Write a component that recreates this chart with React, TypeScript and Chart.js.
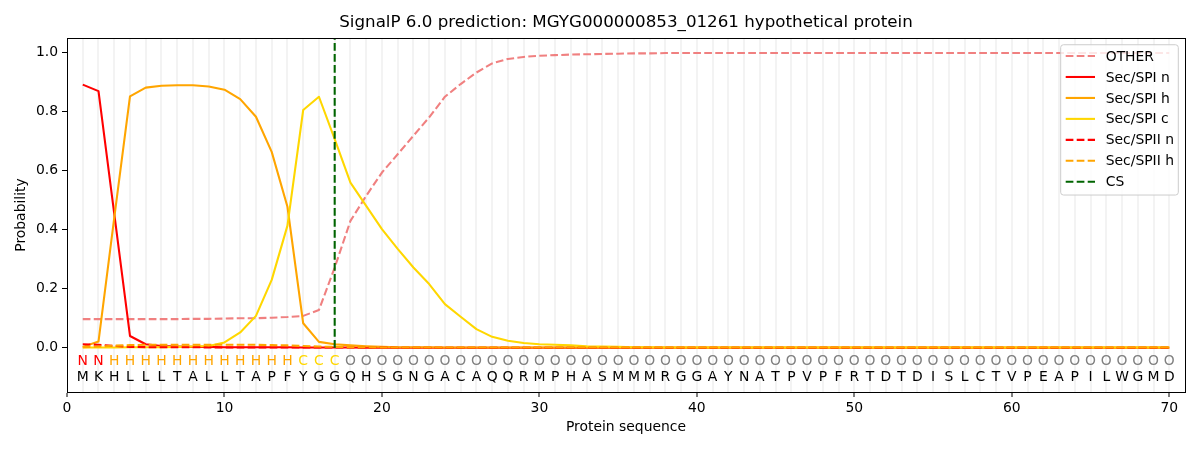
import React, { useEffect, useRef } from "react";
import { Chart, registerables } from "chart.js";

Chart.register(...registerables);

const chartTitle = "SignalP 6.0 prediction: MGYG000000853_01261 hypothetical protein";

// residues and predicted region per residue
const sequence = "MKHLLLTALLTAPFYGGQHSGNGACAQQRMPHASMMMRGGAYNATPVPFRTDTDISLCTVPEAPILWGMD".split("");
const regions = "NNHHHHHHHHHHHHCCCOOOOOOOOOOOOOOOOOOOOOOOOOOOOOOOOOOOOOOOOOOOOOOOOOOOOO".split("");
const positions = sequence.map((_, i) => i + 1);

const xTickLabels = [0, 10, 20, 30, 40, 50, 60, 70];
const yTickLabels = [0, 0.2, 0.4, 0.6, 0.8, 1.0];
const csPosition = 17;

const other = [
  0.097, 0.097, 0.097, 0.097, 0.097, 0.097, 0.097, 0.098, 0.098, 0.099,
  0.1, 0.1, 0.102, 0.104, 0.108, 0.128, 0.272, 0.43, 0.515, 0.594,
  0.656, 0.719, 0.781, 0.851, 0.894, 0.933, 0.964, 0.979, 0.986, 0.99,
  0.992, 0.994, 0.995, 0.996, 0.997, 0.998, 0.998, 0.999, 0.999, 0.999,
  0.999, 0.999, 0.999, 0.999, 0.999, 0.999, 0.999, 0.999, 0.999, 0.999,
  0.999, 0.999, 0.999, 0.999, 0.999, 0.999, 0.999, 0.999, 0.999, 0.999,
  0.999, 0.999, 0.999, 0.999, 0.999, 0.999, 0.999, 0.999, 0.999, 0.999,
];
const spiN = [
  0.892, 0.87, 0.455, 0.04, 0.012, 0.006, 0.004, 0.003, 0.003, 0.002,
  0.002, 0.002, 0.002, 0.002, 0.001, 0.001, 0.001, 0.001, 0, 0,
  0, 0, 0, 0, 0, 0, 0, 0, 0, 0,
  0, 0, 0, 0, 0, 0, 0, 0, 0, 0,
  0, 0, 0, 0, 0, 0, 0, 0, 0, 0,
  0, 0, 0, 0, 0, 0, 0, 0, 0, 0,
  0, 0, 0, 0, 0, 0, 0, 0, 0, 0,
];
const spiH = [
  0.003, 0.021, 0.44, 0.852, 0.882, 0.888, 0.89, 0.89, 0.886, 0.875,
  0.843, 0.783, 0.664, 0.478, 0.083, 0.02, 0.012, 0.008, 0.005, 0.003,
  0.002, 0.002, 0.002, 0.001, 0.001, 0.001, 0.001, 0.001, 0.001, 0.001,
  0.001, 0.001, 0.001, 0.001, 0.001, 0.001, 0.001, 0.001, 0.001, 0.001,
  0.001, 0.001, 0.001, 0.001, 0.001, 0.001, 0.001, 0.001, 0.001, 0.001,
  0.001, 0.001, 0.001, 0.001, 0.001, 0.001, 0.001, 0.001, 0.001, 0.001,
  0.001, 0.001, 0.001, 0.001, 0.001, 0.001, 0.001, 0.001, 0.001, 0.001,
];
const spiC = [
  0.001, 0.001, 0.001, 0.002, 0.002, 0.002, 0.003, 0.004, 0.006, 0.018,
  0.052, 0.108, 0.23, 0.414, 0.806, 0.851, 0.707, 0.56, 0.481, 0.402,
  0.335, 0.272, 0.216, 0.148, 0.105, 0.063, 0.037, 0.024, 0.016, 0.012,
  0.01, 0.008, 0.005, 0.004, 0.003, 0.002, 0.002, 0.001, 0.001, 0.001,
  0.001, 0.001, 0.001, 0.001, 0.001, 0.001, 0.001, 0.001, 0.001, 0.001,
  0.001, 0.001, 0.001, 0.001, 0.001, 0.001, 0.001, 0.001, 0.001, 0.001,
  0.001, 0.001, 0.001, 0.001, 0.001, 0.001, 0.001, 0.001, 0.001, 0.001,
];
const spiiN = [
  0.012, 0.01, 0.006, 0.003, 0.002, 0.002, 0.002, 0.002, 0.001, 0.001,
  0.001, 0.001, 0.001, 0.001, 0.001, 0.001, 0.001, 0.001, 0.001, 0.001,
  0, 0, 0, 0, 0, 0, 0, 0, 0, 0,
  0, 0, 0, 0, 0, 0, 0, 0, 0, 0,
  0, 0, 0, 0, 0, 0, 0, 0, 0, 0,
  0, 0, 0, 0, 0, 0, 0, 0, 0, 0,
  0, 0, 0, 0, 0, 0, 0, 0, 0, 0,
];
const spiiH = [
  0.002, 0.004, 0.007, 0.009, 0.01, 0.01, 0.01, 0.01, 0.01, 0.01,
  0.01, 0.01, 0.009, 0.008, 0.006, 0.004, 0.003, 0.002, 0.002, 0.001,
  0.001, 0.001, 0.001, 0.001, 0.001, 0.001, 0.001, 0.001, 0.001, 0.001,
  0.001, 0.001, 0.001, 0.001, 0.001, 0.001, 0.001, 0.001, 0.001, 0.001,
  0.001, 0.001, 0.001, 0.001, 0.001, 0.001, 0.001, 0.001, 0.001, 0.001,
  0.001, 0.001, 0.001, 0.001, 0.001, 0.001, 0.001, 0.001, 0.001, 0.001,
  0.001, 0.001, 0.001, 0.001, 0.001, 0.001, 0.001, 0.001, 0.001, 0.001,
];

const regionColors: Record<string, string> = {
  N: "#ff0000",
  H: "#ffa500",
  C: "#ffd700",
  O: "#808080",
};

const FONT = "DejaVu Sans";
const DASH = [7.7, 3.3];
const LW = 2.08;

const toPoints = (values: number[]) => values.map((y, i) => ({ x: positions[i], y }));

// residue letters + region letters under the curves
const sequencePlugin = {
  id: "sequenceText",
  afterDatasetsDraw(chart: any) {
    const { ctx, scales } = chart;
    ctx.save();
    ctx.font = `13.9px "${FONT}"`;
    ctx.textAlign = "center";
    ctx.textBaseline = "middle";
    positions.forEach((p, i) => {
      const x = scales.x.getPixelForValue(p);
      ctx.fillStyle = regionColors[regions[i]];
      ctx.fillText(regions[i], x, scales.y.getPixelForValue(-0.047));
      ctx.fillStyle = "#000";
      ctx.fillText(sequence[i], x, scales.y.getPixelForValue(-0.1));
    });
    ctx.restore();
  },
};

// full box frame + matplotlib-like legend in the upper right
const framePlugin = {
  id: "frameLegend",
  afterDraw(chart: any) {
    const { ctx, chartArea } = chart;
    ctx.save();
    ctx.strokeStyle = "#000";
    ctx.lineWidth = 1;
    ctx.setLineDash([]);
    ctx.strokeRect(
      Math.round(chartArea.left) + 0.5,
      Math.round(chartArea.top) + 0.5,
      Math.round(chartArea.right - chartArea.left),
      Math.round(chartArea.bottom - chartArea.top)
    );

    const datasets = chart.data.datasets;
    const w = 117.6;
    const rowH = 20.95;
    const right = chartArea.right - 6.7;
    const top = chartArea.top + 6.7;
    const left = right - w;
    const h = 11.3 + rowH * (datasets.length - 1) + 13.3;
    ctx.beginPath();
    ctx.roundRect(left, top, w, h, 2.8);
    ctx.fillStyle = "rgba(255,255,255,0.8)";
    ctx.fill();
    ctx.strokeStyle = "#cccccc";
    ctx.stroke();

    ctx.font = `13.9px "${FONT}"`;
    ctx.textAlign = "left";
    ctx.textBaseline = "middle";
    datasets.forEach((ds: any, i: number) => {
      const y = top + 11.3 + rowH * i;
      ctx.beginPath();
      ctx.setLineDash(ds.borderDash || []);
      ctx.strokeStyle = ds.borderColor;
      ctx.lineWidth = LW;
      ctx.moveTo(left + 5, y);
      ctx.lineTo(left + 34.3, y);
      ctx.stroke();
      ctx.setLineDash([]);
      ctx.fillStyle = "#000";
      ctx.fillText(ds.label, left + 45, y + 1);
    });
    ctx.restore();
  },
};

const App: React.FC = () => {
  const canvasRef = useRef<HTMLCanvasElement | null>(null);
  const chartRef = useRef<Chart | null>(null);

  useEffect(() => {
    if (!canvasRef.current) return;
    if (chartRef.current) chartRef.current.destroy();

    const line = (label: string, values: number[], color: string, dashed: boolean, order: number) => ({
      label,
      data: toPoints(values),
      borderColor: color,
      backgroundColor: color,
      borderWidth: LW,
      borderDash: dashed ? DASH : [],
      borderJoinStyle: "round" as const,
      pointRadius: 0,
      tension: 0,
      fill: false,
      order,
    });

    const tickFont = { family: FONT, size: 13.9 };

    chartRef.current = new Chart(canvasRef.current, {
      type: "line",
      data: {
        datasets: [
          line("OTHER", other, "#f08080", true, 10),
          line("Sec/SPI n", spiN, "#ff0000", false, 9),
          line("Sec/SPI h", spiH, "#ffa500", false, 8),
          line("Sec/SPI c", spiC, "#ffd700", false, 7),
          line("Sec/SPII n", spiiN, "#ff0000", true, 6),
          line("Sec/SPII h", spiiH, "#ffa500", true, 5),
          {
            label: "CS",
            data: [
              { x: csPosition, y: 0 },
              { x: csPosition, y: 1.05 },
            ],
            borderColor: "#006400",
            backgroundColor: "#006400",
            borderWidth: LW,
            borderDash: DASH,
            pointRadius: 0,
            fill: false,
            order: 4,
          },
        ],
      },
      options: {
        animation: false,
        responsive: true,
        maintainAspectRatio: false,
        layout: { padding: { left: 0, right: 15, top: 0, bottom: 0 } },
        plugins: {
          legend: { display: false },
          tooltip: { enabled: false },
          title: {
            display: true,
            text: chartTitle,
            color: "#000",
            font: { family: FONT, size: 16.7, weight: "normal" },
            padding: { top: 13, bottom: 5 },
            fullSize: false,
          },
        },
        scales: {
          x: {
            type: "linear",
            min: 0,
            max: 71,
            afterBuildTicks: (axis: any) => {
              axis.ticks = [0, ...positions, 71].map((v) => ({ value: v }));
            },
            afterFit: (axis: any) => {
              axis.height = 58;
            },
            ticks: {
              autoSkip: false,
              maxRotation: 0,
              color: "#000",
              font: tickFont,
              padding: 3,
              callback: (v: any) => (xTickLabels.includes(Number(v)) ? String(v) : ""),
            },
            grid: {
              color: (c: any) =>
                c.tick && c.tick.value >= 1 && c.tick.value <= 70 ? "#f3f3f3" : "rgba(0,0,0,0)",
              lineWidth: 2,
              tickColor: (c: any) =>
                c.tick && xTickLabels.includes(c.tick.value) ? "#000" : "rgba(0,0,0,0)",
              tickLength: 5,
              tickWidth: 1,
            },
            border: { display: true, color: "#000", width: 1 },
            title: {
              display: true,
              text: "Protein sequence",
              color: "#000",
              font: tickFont,
              padding: { top: 0, bottom: 14.7 },
            },
          },
          y: {
            type: "linear",
            min: -0.15,
            max: 1.05,
            afterBuildTicks: (axis: any) => {
              axis.ticks = yTickLabels.map((v) => ({ value: v }));
            },
            afterFit: (axis: any) => {
              axis.width = 67;
            },
            ticks: {
              color: "#000",
              font: tickFont,
              padding: 4,
              callback: (v: any) => Number(v).toFixed(1),
            },
            grid: {
              drawOnChartArea: false,
              drawTicks: true,
              tickLength: 5,
              tickColor: "#000",
            },
            border: { display: true, color: "#000", width: 1 },
            title: {
              display: true,
              text: "Probability",
              color: "#000",
              font: tickFont,
              padding: { top: 13.4, bottom: 0 },
            },
          },
        },
      },
      plugins: [sequencePlugin, framePlugin],
    } as any);

    return () => {
      chartRef.current?.destroy();
      chartRef.current = null;
    };
  }, []);

  return (
    <div style={{ position: "fixed", left: 0, top: 0, width: "1200px", height: "450px", background: "#fff" }}>
      <canvas ref={canvasRef} />
    </div>
  );
};

export default App;
